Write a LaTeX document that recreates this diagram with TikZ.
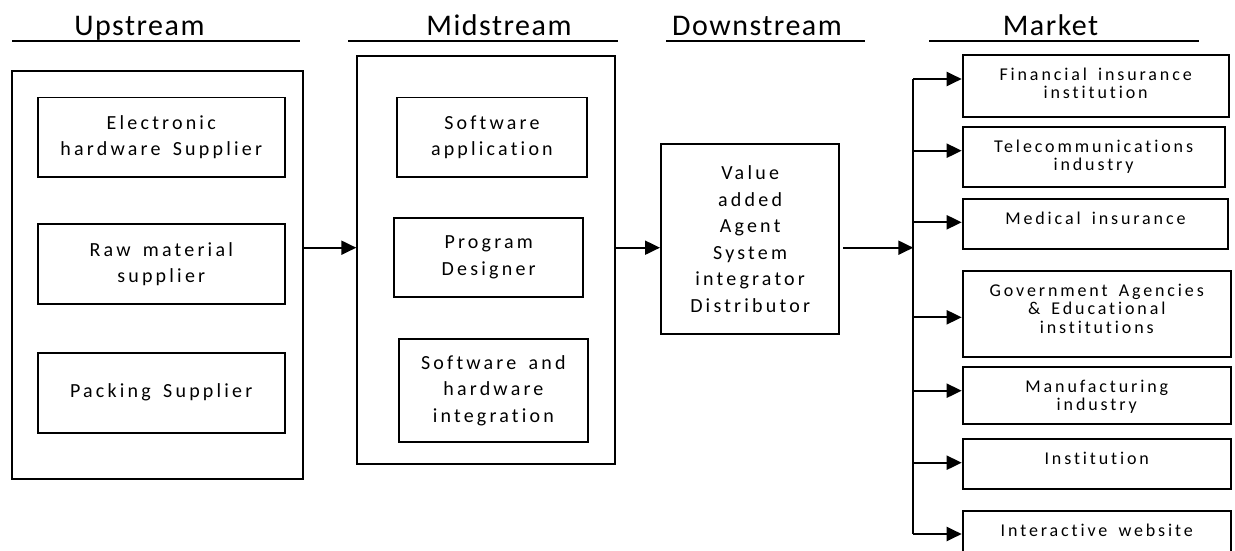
\documentclass[tikz,border=0pt]{standalone}
\usepackage{fontspec}
\setmainfont{Carlito}
\newfontfamily\boxfont[LetterSpace=16,WordSpace=1.6,Ligatures=NoCommon]{Carlito}
\newfontfamily\headfont[LetterSpace=5]{Carlito}
\usetikzlibrary{arrows.meta}
% stacked lines whose baseline is that of the first line
\newcommand\toplines[1]{\begin{tabular}[t]{@{}c@{}}#1\end{tabular}}

\begin{document}
\begin{tikzpicture}[x=1pt,y=-1pt,
  frame/.style={draw, line width=2pt, inner sep=0pt, anchor=north west},
  cell/.style={draw, line width=1.8pt, inner sep=0pt, anchor=north west, align=center,
    font=\boxfont\fontsize{20}{26.5}\selectfont},
  mbox/.style={draw, line width=1.8pt, inner sep=0pt, anchor=north west},
  mtext/.style={anchor=base, inner sep=0pt,
    font=\boxfont\fontsize{18}{18.7}\selectfont},
  head/.style={anchor=base, inner sep=0pt, font=\headfont\fontsize{30}{36}\selectfont},
  rule/.style={line width=2.8pt},
  flow/.style={line width=2pt, -{Triangle[length=15pt,width=14pt]}},
  bus/.style={line width=2pt}]

\path[use as bounding box, clip] (0,0) rectangle (1235,551);

% column headings with their underlines
\node[head] (h-up)   at (139.4,35.5) {Upstream};
\node[head] (h-mid)  at (499,35.5)   {Midstream};
\node[head] (h-down) at (757,35.5)   {Downstream};
\node[head] (h-mkt)  at (1050.5,35.5) {Market};
\draw[rule] (12,41) -- (300,41);
\draw[rule] (348,41) -- (618,41);
\draw[rule] (666,41) -- (865,41);
\draw[rule] (929,41) -- (1199,41);

% upstream suppliers
\node[frame, minimum width=291pt, minimum height=408.3pt] (up) at (10.7,70) {};
\node[cell, minimum width=246.7pt, minimum height=79.3pt] (elec) at (37,96.7)
  {Electronic\\hardware Supplier};
\node[cell, minimum width=246.7pt, minimum height=80pt] (raw) at (37,223.3)
  {Raw material\\supplier};
\node[cell, minimum width=246.7pt, minimum height=80pt] (pack) at (37,351.7)
  {Packing Supplier};

% midstream
\node[frame, minimum width=257.4pt, minimum height=408pt] (mid) at (356.3,54.7) {};
\node[cell, minimum width=189.4pt, minimum height=79.3pt] (soft) at (396.3,96.7)
  {Software\\application};
\node[cell, minimum width=189pt, minimum height=79.3pt] (prog) at (393.3,216.7)
  {Program\\Designer};
\node[cell, minimum width=189.6pt, minimum height=102.4pt] (integ) at (397.7,338.3)
  {Software and\\hardware\\integration};

% downstream
\node[cell, line width=2pt, minimum width=178.3pt, minimum height=190pt] (down) at (660,143.3)
  {Value\\added\\Agent\\System\\integrator\\Distributor};

% market segments
\node[mbox, minimum width=266.1pt, minimum height=61.4pt] (fin) at (961.7,54.3) {};
\node[mbox, minimum width=262pt, minimum height=60pt]     (tel) at (961.7,126) {};
\node[mbox, minimum width=265.6pt, minimum height=49.4pt] (med) at (961.7,198.3) {};
\node[mbox, minimum width=268.3pt, minimum height=86pt]   (gov) at (961.7,270) {};
\node[mbox, minimum width=268.3pt, minimum height=57.3pt] (man) at (961.7,366) {};
\node[mbox, minimum width=268.3pt, minimum height=49.4pt] (ins) at (961.7,438.3) {};
\node[mbox, minimum width=268.3pt, minimum height=50pt]   (web) at (961.7,510) {};

\node[mtext] (fin-t) at ([yshift=-26pt]fin.north) {\toplines{Financial insurance\\institution}};
\node[mtext] (tel-t) at ([yshift=-26pt]tel.north) {\toplines{Telecommunications\\industry}};
\node[mtext] (med-t) at ([yshift=-26pt]med.north) {Medical insurance};
\node[mtext] (gov-t) at ([yshift=-26pt]gov.north) {\toplines{Government Agencies\\\& Educational\\institutions}};
\node[mtext] (man-t) at ([yshift=-26pt]man.north) {\toplines{Manufacturing\\industry}};
\node[mtext] (ins-t) at ([yshift=-26pt]ins.north) {Institution};
\node[mtext] (web-t) at ([yshift=-26pt]web.north) {Interactive website};

% main flow
\coordinate (lvl) at (0,247.7);
\coordinate (bus) at (913.3,0);
\draw[flow] (up.east |- lvl) -- (mid.west |- lvl);
\draw[flow] (mid.east |- lvl) -- (down.west |- lvl);
\draw[flow] ([xshift=3pt]down.east |- lvl) -- (bus |- lvl);

% distribution bus to the market segments
\foreach \b/\dy in {fin/24.7, tel/24.7, med/24, gov/47.3, man/24.7, ins/24.4, web/24}{
  \path ([yshift=-\dy pt]\b.north west) coordinate (\b-in);
  \draw[flow] (bus |- \b-in) -- (\b-in);
}
\draw[bus] (bus |- fin-in) -- (bus |- web-in);

\end{tikzpicture}
\end{document}
